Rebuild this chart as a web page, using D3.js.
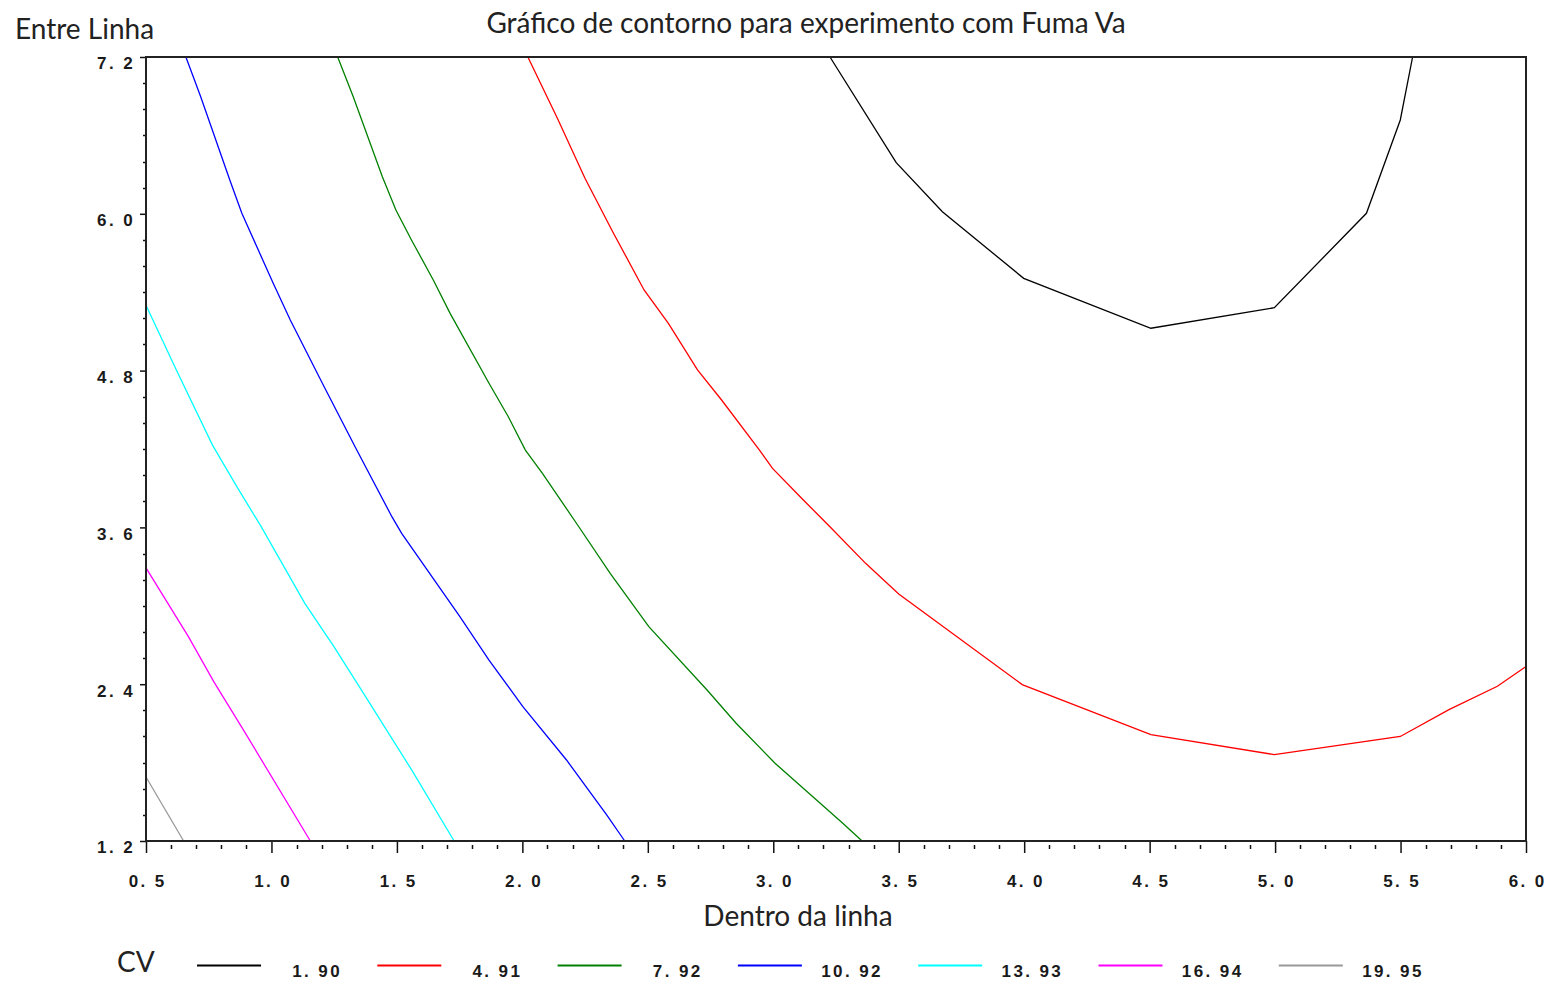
<!DOCTYPE html>
<html>
<head>
<meta charset="utf-8">
<script src="https://cdn.jsdelivr.net/npm/d3@7"></script>
<style>
  html, body { margin: 0; padding: 0; background: #fff; }
  svg { display: block; }
</style>
</head>
<body>
<svg id="chart" width="1548" height="982"></svg>
<script>
// ---- data ----
const titleText = "Gráfico de contorno para experimento com Fuma Va";
const xLabelText = "Dentro da linha";
const yLabelText = "Entre Linha";
const legendTitle = "CV";

const xTickValues = [0.5, 1.0, 1.5, 2.0, 2.5, 3.0, 3.5, 4.0, 4.5, 5.0, 5.5, 6.0];
const xTickLabels = ["0. 5", "1. 0", "1. 5", "2. 0", "2. 5", "3. 0", "3. 5", "4. 0", "4. 5", "5. 0", "5. 5", "6. 0"];
const yTickValues = [1.2, 2.4, 3.6, 4.8, 6.0, 7.2];
const yTickLabels = ["1. 2", "2. 4", "3. 6", "4. 8", "6. 0", "7. 2"];

const levelLabels = ["1. 90", "4. 91", "7. 92", "10. 92", "13. 93", "16. 94", "19. 95"];
const levelColors = ["#000000", "#ff0000", "#008000", "#0000ff", "#00ffff", "#ff00ff", "#999999"];

// contour lines (x = Dentro da linha, y = Entre Linha)
const cv190_x = [3.226, 3.490, 3.674, 3.998, 4.505, 4.997, 5.364, 5.499, 5.548];
const cv190_y = [7.200, 6.391, 6.016, 5.506, 5.124, 5.281, 6.004, 6.718, 7.200];

const cv491_x = [2.022, 2.140, 2.250, 2.360, 2.485, 2.582, 2.698, 2.794, 2.945, 2.997, 3.113, 3.219, 3.368, 3.500, 3.992, 4.505, 4.997, 5.499, 5.693, 5.886, 6.000];
const cv491_y = [7.200, 6.730, 6.270, 5.863, 5.417, 5.162, 4.805, 4.575, 4.192, 4.052, 3.823, 3.618, 3.325, 3.090, 2.397, 2.014, 1.861, 2.000, 2.205, 2.384, 2.535];

const cv792_x = [1.264, 1.326, 1.442, 1.496, 1.558, 1.645, 1.712, 1.867, 1.944, 2.012, 2.080, 2.225, 2.350, 2.504, 2.736, 2.852, 3.007, 3.142, 3.277, 3.354];
const cv792_y = [7.200, 6.896, 6.284, 6.029, 5.800, 5.493, 5.238, 4.703, 4.447, 4.192, 4.014, 3.605, 3.249, 2.840, 2.356, 2.101, 1.795, 1.565, 1.335, 1.200];

const cv1092_x = [0.659, 0.718, 0.834, 0.882, 1.007, 1.075, 1.210, 1.340, 1.480, 1.519, 1.751, 1.867, 2.002, 2.176, 2.336, 2.408];
const cv1092_y = [7.200, 6.896, 6.259, 6.004, 5.468, 5.187, 4.677, 4.192, 3.682, 3.555, 2.917, 2.585, 2.228, 1.820, 1.400, 1.200];

const cv1393_x = [0.500, 0.621, 0.765, 0.862, 0.959, 1.133, 1.249, 1.350, 1.560, 1.728];
const cv1393_y = [5.300, 4.805, 4.230, 3.912, 3.606, 3.019, 2.687, 2.381, 1.740, 1.200];

const cv1694_x = [0.500, 0.669, 0.770, 0.885, 1.155];
const cv1694_y = [3.290, 2.764, 2.420, 2.060, 1.200];

const cv1995_x = [0.500, 0.650];
const cv1995_y = [1.690, 1.200];

const contourXs = [cv190_x, cv491_x, cv792_x, cv1092_x, cv1393_x, cv1694_x, cv1995_x];
const contourYs = [cv190_y, cv491_y, cv792_y, cv1092_y, cv1393_y, cv1694_y, cv1995_y];

// ---- layout ----
const plot = { left: 146, right: 1526, top: 57, bottom: 841 };
const svg = d3.select("#chart");

const x = d3.scaleLinear().domain([0.5, 6.0]).range([plot.left, plot.right]);
const y = d3.scaleLinear().domain([1.2, 7.2]).range([plot.bottom, plot.top]);

const tickFont = "'Liberation Sans', Arial, sans-serif";
const textFont = "Lato, 'Open Sans', sans-serif";
const tickSize = 17, tickSpacing = "2.4px";

// contours
const line = d3.line().x(d => x(d[0])).y(d => y(d[1]));
contourXs.forEach((xs, i) => {
  const pts = xs.map((v, j) => [v, contourYs[i][j]]);
  svg.append("path")
    .attr("d", line(pts))
    .attr("fill", "none")
    .attr("stroke", levelColors[i])
    .attr("stroke-width", 1.3);
});

// x minor ticks
const xMinor = d3.range(0, 56).map(i => 0.5 + i * 0.1).filter(v => Math.abs((v - 0.5) / 0.5 - Math.round((v - 0.5) / 0.5)) > 1e-6);
svg.append("g").selectAll("line").data(xMinor).join("line")
  .attr("x1", d => Math.round(x(d)) + 0.5).attr("x2", d => Math.round(x(d)) + 0.5)
  .attr("y1", plot.bottom + 4).attr("y2", plot.bottom + 8)
  .attr("stroke", "#111").attr("stroke-width", 1.5);

// y minor ticks
const yMinor = d3.range(0, 31).map(i => 1.2 + i * 0.2).filter(v => Math.abs((v - 1.2) / 1.2 - Math.round((v - 1.2) / 1.2)) > 1e-6);
svg.append("g").selectAll("line").data(yMinor).join("line")
  .attr("x1", plot.left - 3).attr("x2", plot.left)
  .attr("y1", d => Math.round(y(d)) + 0.5).attr("y2", d => Math.round(y(d)) + 0.5)
  .attr("stroke", "#111").attr("stroke-width", 1.5);

// x axis
const xAxis = d3.axisBottom(x).tickValues(xTickValues).tickSize(12).tickPadding(22)
  .tickFormat((d, i) => xTickLabels[i]);
const gx = svg.append("g").attr("transform", `translate(0,${plot.bottom})`).call(xAxis);
gx.select(".domain").remove();
gx.selectAll(".tick line").attr("stroke", "#111").attr("stroke-width", 1.5);
gx.selectAll(".tick text")
  .attr("font-family", tickFont).attr("font-size", tickSize).attr("font-weight", "bold")
  .attr("fill", "#1a1a1a").attr("letter-spacing", tickSpacing).attr("dx", "1.2px");

// y axis
const yAxis = d3.axisLeft(y).tickValues(yTickValues).tickSize(6).tickPadding(5)
  .tickFormat((d, i) => yTickLabels[i]);
const gy = svg.append("g").attr("transform", `translate(${plot.left},0)`).call(yAxis);
gy.select(".domain").remove();
gy.selectAll(".tick line").attr("stroke", "#111").attr("stroke-width", 1.5);
gy.selectAll(".tick text")
  .attr("font-family", tickFont).attr("font-size", tickSize).attr("font-weight", "bold")
  .attr("fill", "#1a1a1a").attr("letter-spacing", tickSpacing).attr("dy", "0.7em");

// frame
svg.append("rect")
  .attr("x", plot.left).attr("y", plot.top)
  .attr("width", plot.right - plot.left).attr("height", plot.bottom - plot.top)
  .attr("fill", "none").attr("stroke", "#222").attr("stroke-width", 2);

// title & axis labels
svg.append("text").attr("x", 806).attr("y", 33).attr("text-anchor", "middle")
  .attr("font-family", textFont).attr("font-size", 28).attr("fill", "#222").text(titleText);
svg.append("text").attr("x", 15).attr("y", 39).attr("text-anchor", "start")
  .attr("font-family", textFont).attr("font-size", 28).attr("fill", "#222").text(yLabelText);
svg.append("text").attr("x", 798).attr("y", 926).attr("text-anchor", "middle")
  .attr("font-family", textFont).attr("font-size", 28).attr("fill", "#222").text(xLabelText);

// legend
svg.append("text").attr("x", 117).attr("y", 972).attr("text-anchor", "start")
  .attr("font-family", textFont).attr("font-size", 28).attr("fill", "#222").text(legendTitle);
const legendX0 = 197, legendStep = 180.3, legendLineY = 965.5;
const lg = svg.append("g").selectAll("g").data(levelLabels).join("g")
  .attr("transform", (d, i) => `translate(${legendX0 + i * legendStep},0)`);
lg.append("line").attr("x1", 0).attr("x2", 64).attr("y1", legendLineY).attr("y2", legendLineY)
  .attr("stroke", (d, i) => levelColors[i]).attr("stroke-width", 2);
lg.append("text").attr("x", 145).attr("y", 977).attr("text-anchor", "end")
  .attr("font-family", tickFont).attr("font-size", tickSize).attr("font-weight", "bold")
  .attr("fill", "#1a1a1a").attr("letter-spacing", tickSpacing).text(d => d);
</script>
</body>
</html>
